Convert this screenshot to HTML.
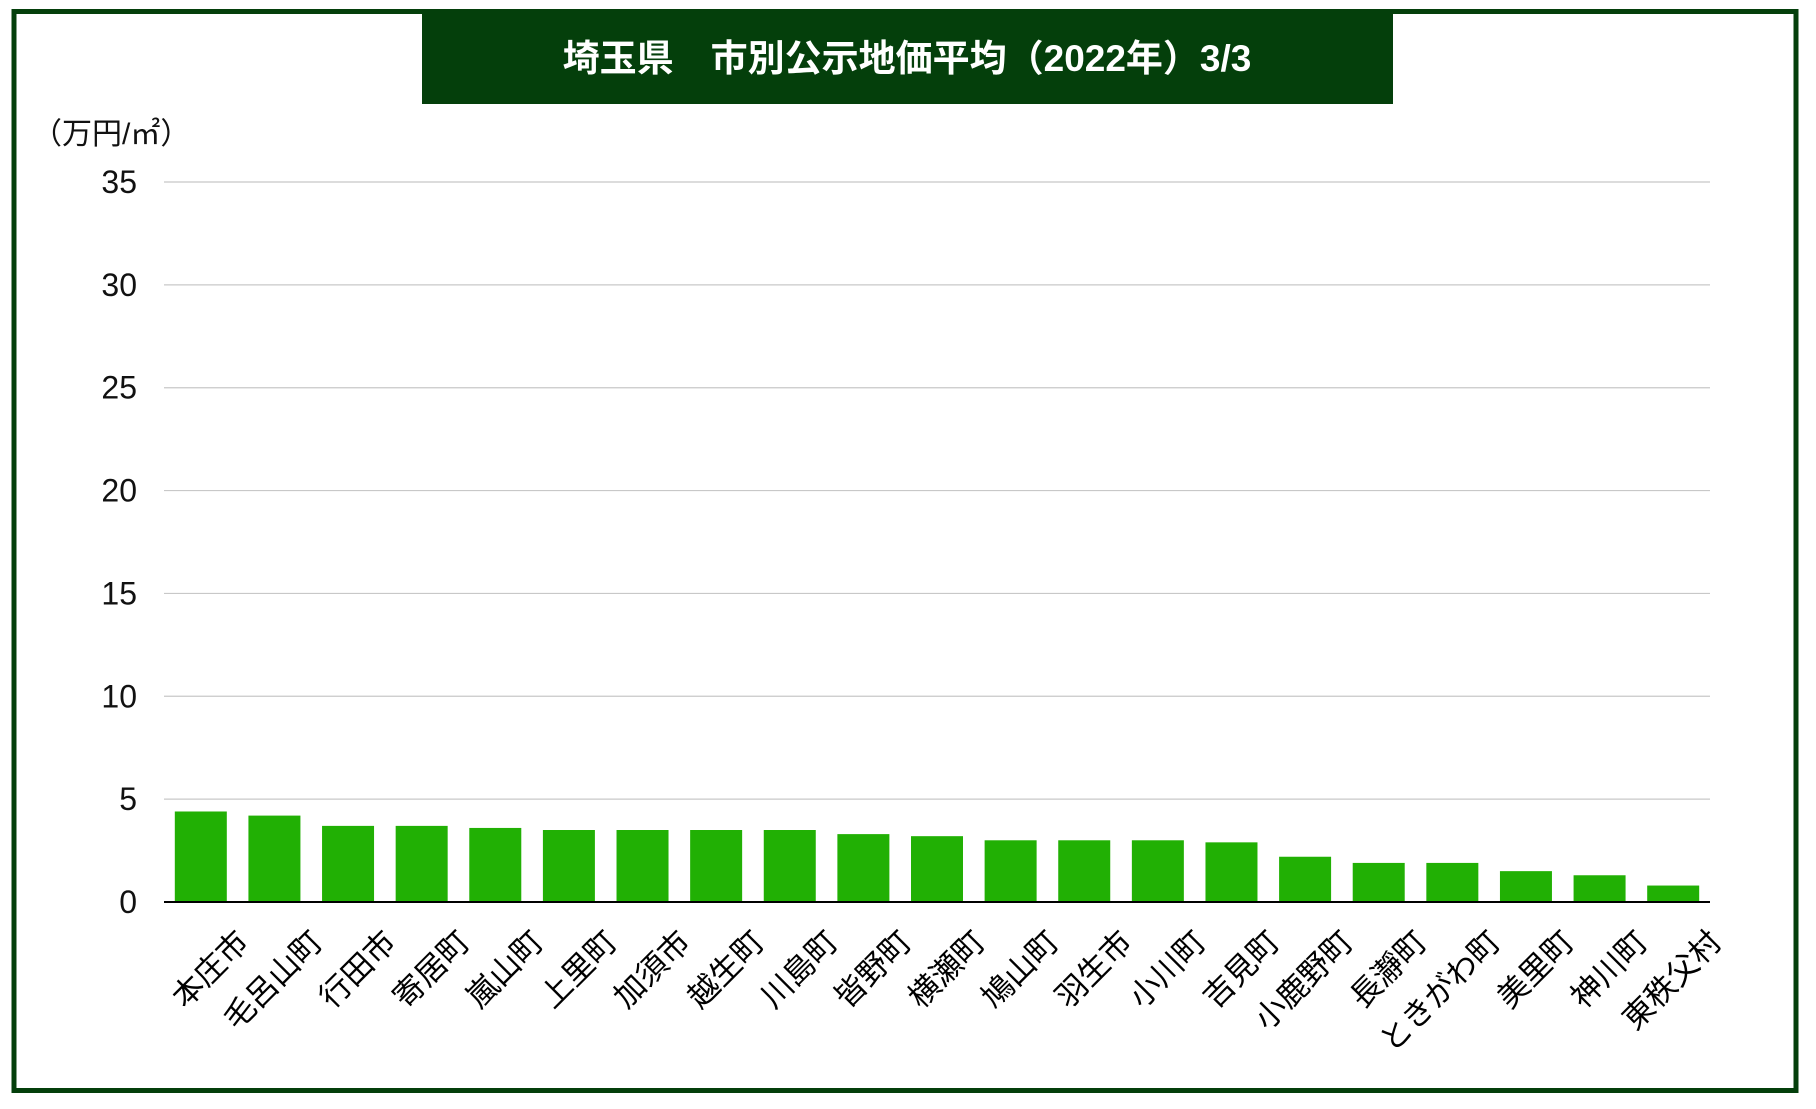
<!DOCTYPE html>
<html><head><meta charset="utf-8">
<style>
html,body{margin:0;padding:0;background:#fff;}
svg{display:block;font-family:"Liberation Sans","Noto Sans CJK JP",sans-serif;}
</style></head>
<body>
<svg id="chart" width="1816" height="1109" viewBox="0 0 1816 1109">
<rect x="14" y="11.5" width="1782" height="1079" fill="#fff" stroke="#043f0b" stroke-width="5"/>
<rect x="422" y="12" width="971" height="92" fill="#043f0b"/>
<text x="907" y="71" text-anchor="middle" fill="#fff" font-size="37" font-weight="bold">埼玉県　市別公示地価平均（2022年）3/3</text>
<text x="32" y="144" font-size="30" fill="#111">（万円/㎡）</text>
<g id="grid"></g><g id="bars"></g><g id="xlabels"></g>
</svg>
<script>
const categories=["本庄市","毛呂山町","行田市","寄居町","嵐山町","上里町","加須市","越生町","川島町","皆野町","横瀬町","鳩山町","羽生市","小川町","吉見町","小鹿野町","長瀞町","ときがわ町","美里町","神川町","東秩父村"];
const values=[4.4,4.2,3.7,3.7,3.6,3.5,3.5,3.5,3.5,3.3,3.2,3.0,3.0,3.0,2.9,2.2,1.9,1.9,1.5,1.3,0.8];
const yTicks=[0,5,10,15,20,25,30,35];
const NS="http://www.w3.org/2000/svg";
const L=164,R=1710,Y0=902,Y35=182,yMax=35;
const y=v=>Y0-(v/yMax)*(Y0-Y35);
const step=(R-L)/categories.length;
const xc=i=>L+step*(i+0.5);
function mk(t,a){const e=document.createElementNS(NS,t);for(const k in a)e.setAttribute(k,a[k]);return e;}
const grid=document.getElementById('grid');
yTicks.forEach(t=>{
  if(t>0){const ln=mk('line',{x1:L,x2:R,y1:y(t),y2:y(t),stroke:'#c8c8c8','stroke-width':1.2});
  
  
  grid.appendChild(ln);}
  const tx=mk('text',{x:137,y:y(t)+11,'text-anchor':'end','font-size':32,fill:'#111'});
  tx.textContent=t;
  
  
  grid.appendChild(tx);
});
const bars=document.getElementById('bars');
const xl=document.getElementById('xlabels');
const bw=52;
values.forEach((v,i)=>{
  const r=mk('rect',{x:xc(i)-bw/2,y:y(v),width:bw,height:Y0-y(v),fill:'#21b004'});
  
  
  bars.appendChild(r);
  const ax=xc(i)+50,ay=944;
  const t=mk('text',{x:ax,y:ay,'text-anchor':'end','font-size':31,fill:'#000',transform:`rotate(-45 ${ax} ${ay})`});
  t.textContent=categories[i];
  
  
  xl.appendChild(t);
});
const ax=mk('line',{x1:L,x2:R,y1:Y0,y2:Y0,stroke:'#000','stroke-width':2});


bars.appendChild(ax);
</script>
</body></html>
